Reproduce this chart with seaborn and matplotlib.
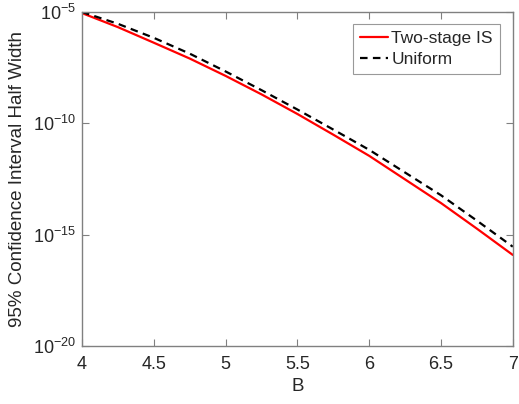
import matplotlib

matplotlib.use("Agg")
import matplotlib.pyplot as plt
from matplotlib.ticker import FixedLocator, NullLocator
import numpy as np
import pandas as pd
import seaborn as sns


B_VALUES = [4.0, 4.25, 4.5, 4.75, 5.0, 5.25, 5.5, 5.75, 6.0, 6.25, 6.5, 6.75, 7.0]

# (log scale)
TWO_STAGE_IS = [8.91e-6, 2.09e-6, 4.17e-7, 8.13e-8, 1.35e-8, 2.0e-9, 2.63e-10, 3.09e-11,
                3.47e-12, 3.02e-13, 2.63e-14, 1.86e-15, 1.23e-16]
UNIFORM = [1.0e-5, 2.95e-6, 6.92e-7, 1.35e-7, 2.14e-8, 3.09e-9, 4.17e-10, 5.25e-11,
           6.46e-12, 6.17e-13, 5.89e-14, 4.27e-15, 2.88e-16]

SERIES_NAMES = ["Two-stage IS", "Uniform"]
Y_TICKS = [1e-20, 1e-15, 1e-10, 1e-5]
Y_TICK_LABELS = ["$10^{-20}$", "$10^{-15}$", "$10^{-10}$", "$10^{-5}$"]
X_TICKS = [4, 4.5, 5, 5.5, 6, 6.5, 7]
X_TICK_LABELS = ["4", "4.5", "5", "5.5", "6", "6.5", "7"]


def main() -> None:
    sns.set_theme(style="ticks")
    plt.rcParams["font.family"] = ["Liberation Sans", "DejaVu Sans"]
    plt.rcParams["mathtext.default"] = "regular"

    df = pd.DataFrame(
        {
            "B": B_VALUES * 2,
            "value": TWO_STAGE_IS + UNIFORM,
            "method": [SERIES_NAMES[0]] * len(B_VALUES) + [SERIES_NAMES[1]] * len(B_VALUES),
        }
    )

    fig = plt.figure(figsize=(5.19, 4.04), dpi=100)
    ax = fig.add_axes([0.158, 0.1436, 0.830, 0.8267])

    sns.lineplot(
        data=df,
        x="B",
        y="value",
        hue="method",
        style="method",
        palette={SERIES_NAMES[0]: "#ff0000", SERIES_NAMES[1]: "#000000"},
        dashes={SERIES_NAMES[0]: "", SERIES_NAMES[1]: (3.4, 2.4)},
        linewidth=1.6,
        ax=ax,
    )

    ax.set_yscale("log")
    ax.set_xlim(4, 7)
    ax.set_ylim(1e-20, 1e-5)
    ax.yaxis.set_major_locator(FixedLocator(Y_TICKS))
    ax.yaxis.set_minor_locator(NullLocator())
    ax.set_yticklabels(Y_TICK_LABELS)
    ax.set_xticks(X_TICKS)
    ax.set_xticklabels(X_TICK_LABELS)

    text_color = "#262626"
    for side in ax.spines.values():
        side.set_color("#808080")
        side.set_linewidth(1.0)
    ax.tick_params(
        axis="both", which="both", direction="in", length=5, width=0.8,
        color="#808080", labelcolor=text_color, labelsize=13,
        top=True, right=True,
    )
    ax.tick_params(axis="x", pad=7.5)
    ax.tick_params(axis="y", pad=4)
    ax.set_xlabel("B", fontsize=13.5, color=text_color, labelpad=3)
    ax.set_ylabel("95% Confidence Interval Half Width", fontsize=13.5,
                  color=text_color, labelpad=5)

    leg = ax.legend(
        loc="upper right", bbox_to_anchor=(0.97, 0.965), fontsize=12.5, frameon=True,
        fancybox=False, edgecolor="#808080", handlelength=1.6, handletextpad=0.2,
        borderpad=0.4, labelspacing=0.35, borderaxespad=0,
    )
    leg.get_frame().set_linewidth(0.8)
    for t in leg.get_texts():
        t.set_color(text_color)

    fig.savefig("out.png", dpi=100)
    plt.close(fig)


if __name__ == "__main__":
    main()
